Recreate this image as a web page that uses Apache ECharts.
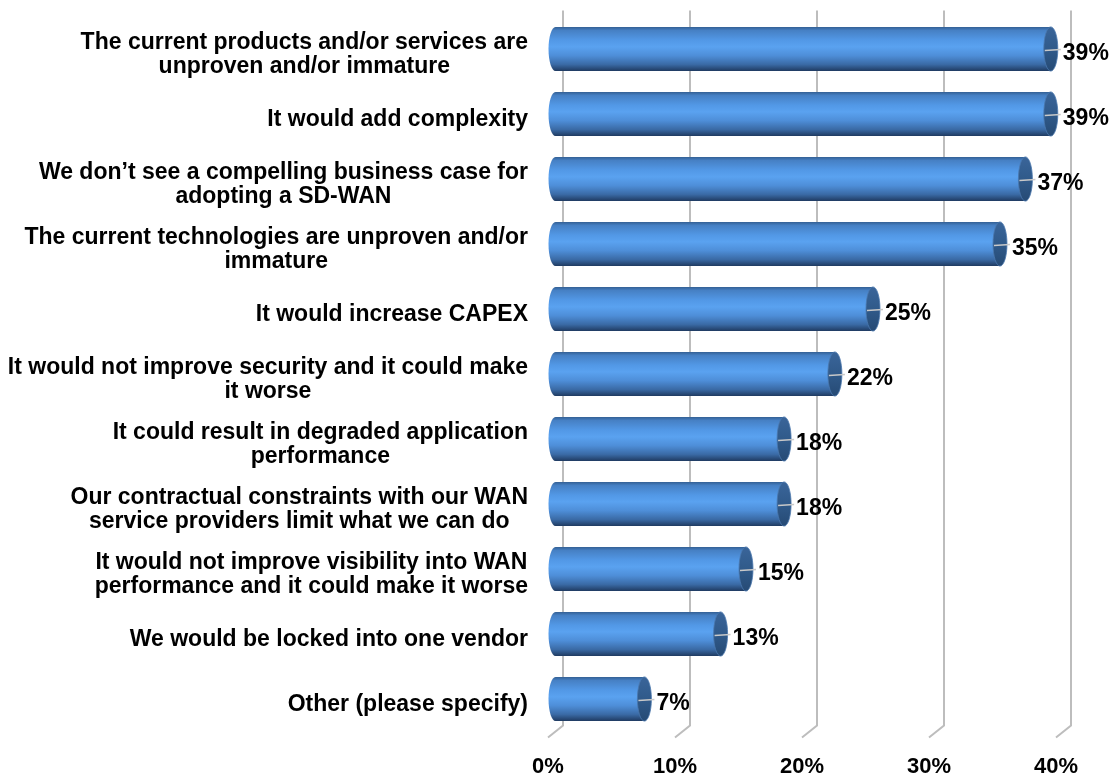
<!DOCTYPE html>
<html>
<head>
<meta charset="utf-8">
<script src="https://cdn.jsdelivr.net/npm/echarts@6/dist/echarts.min.js"></script>
<style>
  html, body { margin: 0; padding: 0; background: #ffffff; }
  #chart { width: 1116px; height: 775px; }
</style>
</head>
<body>
<div id="chart"></div>
<script>
// Reasons for not adopting an SD-WAN (share of respondents, %)
const categories = [
  'The current products and/or services are\nunproven and/or immature',
  'It would add complexity',
  'We don\u2019t see a compelling business case for\nadopting a SD-WAN',
  'The current technologies are unproven and/or\nimmature',
  'It would increase CAPEX',
  'It would not improve security and it could make\nit worse',
  'It could result in degraded application\nperformance',
  'Our contractual constraints with our WAN\nservice providers limit what we can do',
  'It would not improve visibility into WAN\nperformance and it could make it worse',
  'We would be locked into one vendor',
  'Other (please specify)'
];
const values = [39, 39, 37, 35, 25, 22, 18, 18, 15, 13, 7];
const tickValues = [0, 10, 20, 30, 40];

const FONT = '"Liberation Sans", Arial, sans-serif';
// 3D depth of the plot box: back wall is shifted right and up
const DEPTH_X = 15;
const DEPTH_Y = 12;

const bodyGradient = () => new echarts.graphic.LinearGradient(0, 0, 0, 1, [
  { offset: 0.00, color: '#335f93' },
  { offset: 0.08, color: '#4680c4' },
  { offset: 0.30, color: '#5298e6' },
  { offset: 0.45, color: '#5aa2f0' },
  { offset: 0.65, color: '#4e8ed8' },
  { offset: 0.85, color: '#3a6aa5' },
  { offset: 1.00, color: '#1f3a60' }
]);
const capGradient = () => new echarts.graphic.LinearGradient(0, 0, 0, 1, [
  { offset: 0.00, color: '#3a659a' },
  { offset: 0.50, color: '#305a8a' },
  { offset: 1.00, color: '#264a74' }
]);

// Vertical wall gridlines with their slanted floor segment
function renderGridLine(params, api) {
  const cs = params.coordSys;
  const x = api.coord([api.value(0), 0])[0];
  const top = cs.y;
  const bottom = cs.y + cs.height;
  return {
    type: 'polyline',
    silent: true,
    shape: {
      points: [
        [x + DEPTH_X, top - DEPTH_Y],
        [x + DEPTH_X, bottom - DEPTH_Y],
        [x, bottom]
      ]
    },
    style: { stroke: '#bdbdbd', lineWidth: 2, fill: null }
  };
}

// Cylinder bars sitting in the middle of the depth
function renderBar(params, api) {
  const v = api.value(0);
  const idx = api.value(1);
  const p0 = api.coord([0, idx]);
  const p1 = api.coord([v, idx]);
  const band = api.size([0, 1])[1];
  const h = band * 0.68;
  const cy = p0[1] - DEPTH_Y / 2;
  const xl = p0[0] + DEPTH_X / 2;
  const xr = p1[0] + DEPTH_X / 2;
  const rx = 7;
  const ry = h / 2;
  return {
    type: 'group',
    children: [
      {
        type: 'ellipse',
        shape: { cx: xl, cy: cy, rx: rx, ry: ry },
        style: { fill: bodyGradient() }
      },
      {
        type: 'rect',
        shape: { x: xl, y: cy - ry, width: xr - xl, height: h },
        style: { fill: bodyGradient() }
      },
      {
        type: 'ellipse',
        shape: { cx: xr, cy: cy, rx: rx, ry: ry },
        style: { fill: capGradient(), stroke: '#4a77ad', lineWidth: 0.8 }
      },
      {
        type: 'line',
        shape: { x1: xr - rx + 1, y1: cy + 1.5, x2: xr + rx + 3, y2: cy + 0.5 },
        style: { stroke: '#c9c9c9', lineWidth: 1.5 }
      },
      {
        type: 'text',
        style: {
          x: xr + rx + 5,
          y: cy + 5,
          text: v + '%',
          fill: '#000000',
          font: 'bold 23px ' + FONT,
          align: 'left',
          verticalAlign: 'middle'
        }
      }
    ]
  };
}

const chart = echarts.init(document.getElementById('chart'), null, { renderer: 'canvas' });

chart.setOption({
  animation: false,
  backgroundColor: '#ffffff',
  grid: {
    left: 548, top: 22.5, width: 508, height: 715,
    containLabel: false,
    outerBoundsMode: 'none'
  },
  xAxis: {
    type: 'value',
    min: 0,
    max: 40,
    interval: 10,
    axisLine: { show: false },
    axisTick: { show: false },
    splitLine: { show: false },
    axisLabel: {
      formatter: '{value}%',
      margin: 18,
      color: '#000000',
      fontFamily: FONT,
      fontWeight: 'bold',
      fontSize: 22
    }
  },
  yAxis: {
    type: 'category',
    inverse: true,
    data: categories,
    axisLine: { show: false },
    axisTick: { show: false },
    splitLine: { show: false },
    axisLabel: {
      align: 'right',
      margin: 20,
      formatter: (value) => value.split('\n').map(l => '{c|' + l + '}').join('\n'),
      rich: {
        c: {
          align: 'center',
          color: '#000000',
          fontFamily: FONT,
          fontWeight: 'bold',
          fontSize: 23,
          lineHeight: 24
        }
      }
    }
  },
  series: [
    {
      type: 'custom',
      name: 'grid',
      z: 1,
      silent: true,
      renderItem: renderGridLine,
      encode: { x: 0, y: 1 },
      data: tickValues.map(t => [t, 0])
    },
    {
      type: 'custom',
      name: 'share',
      z: 2,
      renderItem: renderBar,
      encode: { x: 0, y: 1 },
      data: values.map((v, i) => [v, i])
    }
  ]
});
</script>
</body>
</html>
